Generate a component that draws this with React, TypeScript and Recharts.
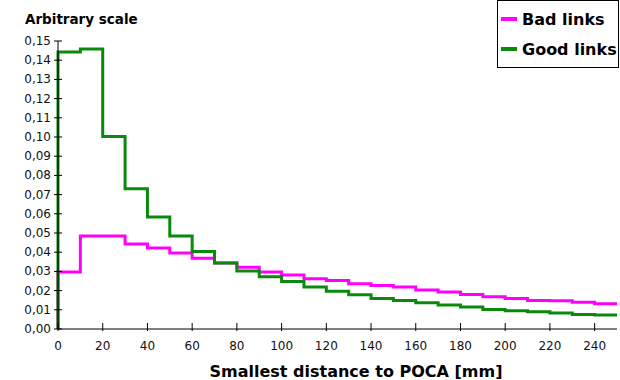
import { LineChart, Line, XAxis, YAxis } from 'recharts';

// bin edges in mm, 10 mm wide bins
const binStarts = [
  0, 10, 20, 30, 40, 50, 60, 70, 80, 90, 100, 110, 120, 130, 140, 150, 160, 170, 180, 190, 200,
  210, 220, 230, 240,
];
const binEnd = 250;

const goodLinks = [
  0.1443, 0.1458, 0.1002, 0.0731, 0.0583, 0.0484, 0.0404, 0.0344, 0.0302, 0.0272, 0.0248, 0.0219,
  0.0196, 0.0179, 0.0159, 0.0149, 0.0137, 0.0125, 0.0115, 0.0101, 0.0095, 0.009, 0.0083, 0.0076,
  0.0073,
];
const badLinks = [
  0.0297, 0.0484, 0.0484, 0.0443, 0.0422, 0.0396, 0.0368, 0.0344, 0.0321, 0.0297, 0.0281, 0.0262,
  0.0252, 0.0236, 0.0227, 0.0219, 0.0203, 0.0193, 0.018, 0.0168, 0.0159, 0.0149, 0.0147, 0.0139,
  0.0132,
];

const xTicks = [0, 20, 40, 60, 80, 100, 120, 140, 160, 180, 200, 220, 240];
const yTicks = [
  0, 0.01, 0.02, 0.03, 0.04, 0.05, 0.06, 0.07, 0.08, 0.09, 0.1, 0.11, 0.12, 0.13, 0.14, 0.15,
];

const FONT = '"DejaVu Sans", sans-serif';
const MAGENTA = '#ff00ff';
const GREEN = '#0a8a0a';

// step data: start from 0 at x=0, then one point per bin, closing point at the end
const data = [
  { x: 0, good: 0, bad: 0 },
  ...binStarts.map((x, i) => ({ x, good: goodLinks[i], bad: badLinks[i] })),
  { x: binEnd, good: goodLinks[goodLinks.length - 1], bad: badLinks[badLinks.length - 1] },
];

const fmt = (v: number) => v.toFixed(2).replace('.', ',');

const YTick = ({ x, y, payload }: any) => (
  <g>
    <line x1={x - 4} x2={x + 4} y1={y} y2={y} stroke="#000" />
    <text x={x - 7} y={y + 4} textAnchor="end" fontSize={12} fontFamily={FONT} fill="#111">
      {fmt(payload.value)}
    </text>
  </g>
);

const XTick = ({ x, y, payload }: any) => (
  <g>
    <line x1={x} x2={x} y1={y - 6} y2={y + 2} stroke="#000" />
    <text x={x} y={y + 21} textAnchor="middle" fontSize={12} fontFamily={FONT} fill="#111">
      {payload.value}
    </text>
  </g>
);

const legendItems = [
  { name: 'Bad links', color: MAGENTA },
  { name: 'Good links', color: GREEN },
];

const LegendBox = () => (
  <div
    style={{
      position: 'absolute',
      left: 497,
      top: 0,
      border: '1px solid #000',
      background: '#fff',
      width: 122,
      height: 68,
      boxSizing: 'border-box',
      paddingTop: 3,
      fontFamily: FONT,
      fontWeight: 'bold',
      fontSize: 16,
    }}
  >
    {legendItems.map((item) => (
      <div key={item.name} style={{ display: 'flex', alignItems: 'center', height: 30 }}>
        <span
          style={{
            display: 'inline-block',
            width: 16,
            height: 4,
            background: item.color,
            marginLeft: 3,
            marginRight: 5,
          }}
        />
        <span>{item.name}</span>
      </div>
    ))}
  </div>
);

export default function App() {
  return (
    <div style={{ position: 'absolute', left: 0, top: 0, width: 620, height: 380 }}>
      <style>{'body{margin:0}'}</style>
      <LineChart
        width={620}
        height={380}
        data={data}
        margin={{ top: 41, right: 3, bottom: 11, left: 8 }}
      >
        <XAxis
          dataKey="x"
          type="number"
          domain={[0, binEnd]}
          ticks={xTicks}
          tick={<XTick />}
          tickLine={false}
          tickSize={0}
          tickMargin={0}
          stroke="#000"
          height={40}
          interval={0}
        />
        <YAxis
          type="number"
          domain={[0, 0.15]}
          ticks={yTicks}
          tick={<YTick />}
          tickLine={false}
          tickSize={0}
          tickMargin={0}
          stroke="#000"
          width={50}
          interval={0}
        />
        <Line
          type="stepAfter"
          dataKey="bad"
          stroke={MAGENTA}
          strokeWidth={3}
          dot={false}
          isAnimationActive={false}
        />
        <Line
          type="stepAfter"
          dataKey="good"
          stroke={GREEN}
          strokeWidth={3}
          dot={false}
          isAnimationActive={false}
        />
        <text x={25} y={24} fontSize={13.5} fontWeight="bold" fontFamily={FONT} fill="#000">
          Arbitrary scale
        </text>
        <text
          x={356}
          y={377}
          textAnchor="middle"
          fontSize={16}
          fontWeight="bold"
          fontFamily={FONT}
          fill="#000"
        >
          Smallest distance to POCA [mm]
        </text>
      </LineChart>
      <LegendBox />
    </div>
  );
}
